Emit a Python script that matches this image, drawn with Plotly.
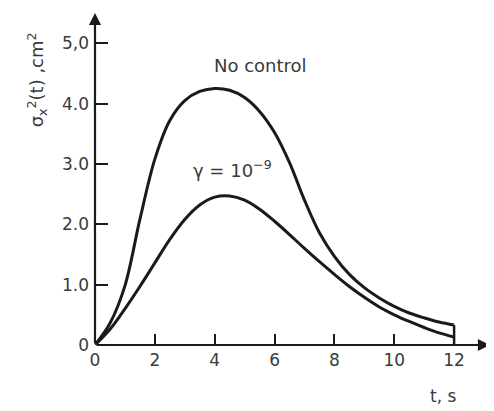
import plotly.graph_objects as go

t = [0, 0.5, 1, 1.5, 2, 2.5, 3, 3.5, 4, 4.5, 5, 5.5, 6, 6.5, 7, 7.5, 8, 8.5, 9, 9.5, 10, 10.5, 11, 11.5, 12]
no_control = [0, 0.36, 0.98, 2.08, 3.08, 3.72, 4.05, 4.20, 4.25, 4.22, 4.10, 3.87, 3.52, 3.02, 2.40, 1.86, 1.47, 1.17, 0.95, 0.78, 0.64, 0.53, 0.45, 0.38, 0.33]
gamma_1e9 = [0, 0.26, 0.60, 0.97, 1.36, 1.75, 2.08, 2.32, 2.45, 2.47, 2.40, 2.25, 2.05, 1.83, 1.60, 1.38, 1.17, 0.97, 0.79, 0.63, 0.50, 0.39, 0.29, 0.20, 0.13]

x_ticks = [0, 2, 4, 6, 8, 10, 12]
x_labels = ["0", "2", "4", "6", "8", "10", "12"]
y_ticks = [0, 1, 2, 3, 4, 5]
y_labels = ["0", "1.0", "2.0", "3.0", "4.0", "5,0"]

INK = "#1a1a1a"
TXT = "#3a3a3a"
FONT = "DejaVu Sans"

fig = go.Figure()
for series in (no_control, gamma_1e9):
    fig.add_trace(go.Scatter(x=t, y=series, mode="lines",
                             line=dict(color=INK, width=3, shape="spline", smoothing=1.0),
                             showlegend=False, hoverinfo="skip"))
# end cap at t = 12
fig.add_trace(go.Scatter(x=[t[-1], t[-1]], y=[no_control[-1], 0], mode="lines",
                         line=dict(color=INK, width=2.5), showlegend=False, hoverinfo="skip"))

XMAX = 13.2
YMAX = 5.5

fig.update_layout(
    width=486, height=403,
    margin=dict(l=87, r=4, t=5, b=66),
    paper_bgcolor="white", plot_bgcolor="white",
    font=dict(family=FONT, size=17, color=TXT),
    xaxis=dict(range=[0, XMAX], tickvals=x_ticks, ticktext=x_labels,
               ticks="inside", ticklen=11, tickwidth=2, tickcolor=INK,
               ticklabelstandoff=3,
               showgrid=False, zeroline=False, showline=False,
               tickfont=dict(family=FONT, size=17, color=TXT)),
    yaxis=dict(range=[0, YMAX], tickvals=y_ticks, ticktext=y_labels,
               ticks="inside", ticklen=13, tickwidth=2, tickcolor=INK,
               ticklabelstandoff=5,
               showgrid=False, zeroline=False, showline=False,
               tickfont=dict(family=FONT, size=17, color=TXT)),
)

# axes with arrowheads
fig.add_annotation(x=XMAX, y=0, ax=0, ay=0, xref="x", yref="y", axref="x", ayref="y",
                   text="", showarrow=True, arrowhead=2, arrowsize=1.1, arrowwidth=2.2,
                   arrowcolor=INK)
fig.add_annotation(x=0, y=YMAX, ax=0, ay=0, xref="x", yref="y", axref="x", ayref="y",
                   text="", showarrow=True, arrowhead=2, arrowsize=1.1, arrowwidth=2.2,
                   arrowcolor=INK)

fig.add_annotation(x=5.52, y=4.63, xref="x", yref="y", text="No control", showarrow=False,
                   font=dict(family=FONT, size=18, color=TXT))
fig.add_annotation(x=4.6, y=2.92, xref="x", yref="y", text="γ = 10<sup>−9</sup>", showarrow=False,
                   font=dict(family=FONT, size=18, color=TXT))
fig.add_annotation(x=0.881, y=-0.154, xref="paper", yref="paper", text="t, s", showarrow=False,
                   xanchor="center", yanchor="middle",
                   font=dict(family=FONT, size=17, color=TXT))
fig.add_annotation(x=-0.147, y=0.80, xref="paper", yref="paper",
                   text="σ<sub>x</sub><sup>2</sup>(t) ,cm<sup>2</sup>", textangle=-90,
                   showarrow=False, xanchor="center", yanchor="middle",
                   font=dict(family=FONT, size=18, color=TXT))

fig.write_html("out.html")
